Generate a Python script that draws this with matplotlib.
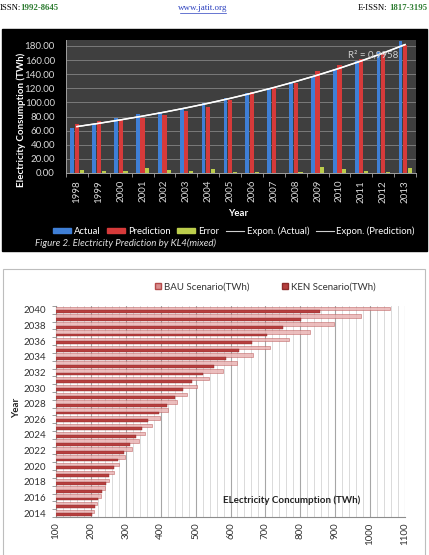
import numpy as np
import matplotlib.pyplot as plt
from matplotlib.patches import Rectangle, Patch
from matplotlib.lines import Line2D

W, H = 429, 555

# top chart: electricity prediction by KL4 (mixed)
years = [str(y) for y in range(1998, 2014)]
actual = [64.4, 69.2, 78.2, 83.8, 86.7, 91.0, 99.5, 105.6, 112.7, 119.8,
          128.4, 136.4, 146.8, 158.2, 171.5, 187.6]
prediction = [70.1, 74.4, 74.8, 78.6, 82.0, 87.6, 93.8, 103.7, 114.2, 121.3,
              127.0, 145.0, 153.5, 161.0, 169.6, 181.0]
error = [4.7, 3.3, 3.3, 6.6, 4.7, 2.8, 5.7, 1.9, 1.4, 0.5, 1.0, 9.0, 6.2,
         3.3, 1.9, 6.6]
y_ticks_top = [0, 20, 40, 60, 80, 100, 120, 140, 160, 180]

# bottom chart: scenarios 2014-2040
scen_years = list(range(2014, 2041))
bau = [208, 218, 228, 240, 253, 266, 281, 298, 318, 337, 356, 376, 397, 420,
       446, 474, 505, 539, 578, 618, 664, 713, 768, 828, 897, 973, 1057]
ken = [202, 211, 220, 231, 242, 253, 265, 279, 296, 312, 328, 345, 363, 395,
       417, 442, 465, 491, 520, 553, 587, 623, 662, 706, 751, 801, 856]
x_ticks_bottom = list(range(100, 1101, 100))


def fx(x):
    return x / W


def fy(y):
    return 1 - y / H


plt.rcParams['font.family'] = ['Lato', 'DejaVu Sans']
fig = plt.figure(figsize=(W / 100, H / 100), dpi=100)
fig.patch.set_facecolor('white')

# page header
fig.text(fx(0), fy(8), 'ISSN:', fontsize=6.3, family='Liberation Serif',
         va='center', ha='left')
fig.text(fx(20), fy(8), '1992-8645', fontsize=6.3, family='Liberation Serif',
         color='#2e7d32', weight='bold', va='center', ha='left')
fig.text(fx(203), fy(8), 'www.jatit.org', fontsize=6.5, family='Liberation Serif',
         color='#2a3fbf', va='center', ha='center')
fig.add_artist(Line2D([fx(180), fx(226)], [fy(12.5), fy(12.5)], color='#2a3fbf',
                      lw=0.5))
fig.text(fx(358), fy(8), 'E-ISSN:', fontsize=6.3, family='Liberation Serif',
         va='center', ha='left')
fig.text(fx(427), fy(8), '1817-3195', fontsize=6.3, family='Liberation Serif',
         color='#2e7d32', weight='bold', va='center', ha='right')

# black panel behind the top chart
fig.add_artist(Rectangle((fx(2), fy(251)), fx(425), 222 / H, color='black',
                         transform=fig.transFigure, zorder=0))

ax1 = fig.add_axes([fx(66), fy(173), 350 / W, 133 / H])
ax1.set_facecolor('#3f3f3f')
idx = np.arange(len(years))
ax1.bar(idx - 0.21, actual, 0.17, color='#3f7fd6', zorder=3)
ax1.bar(idx, prediction, 0.19, color='#d63a3a', zorder=3)
ax1.bar(idx + 0.22, error, 0.19, color='#bccd4c', zorder=3)

# exponential trendlines
for vals in (actual, prediction):
    b, a = np.polyfit(idx, np.log(vals), 1)
    ax1.plot(idx, np.exp(a + b * idx), color='white', lw=1.0, zorder=4)

ax1.set_xlim(-0.5, len(years) - 0.5)
ax1.set_ylim(0, 188.5)
ax1.set_yticks(y_ticks_top)
ax1.set_yticklabels(['%.2f' % v for v in y_ticks_top])
# tick marks between categories, labels on the categories
ax1.set_xticks(np.arange(-0.5, len(years), 1.0))
ax1.set_xticklabels([])
ax1.set_xticks(idx, minor=True)
ax1.set_xticklabels(years, rotation=90, minor=True)
ax1.grid(axis='y', color='#7a7a7a', lw=0.7, zorder=0)
ax1.tick_params(which='both', colors='#d9d9d9', labelcolor='#d9d9d9',
                labelsize=7, width=0.6)
ax1.tick_params(axis='x', which='major', length=3, color='#a0a0a0')
ax1.tick_params(axis='x', which='minor', length=0, pad=5)
ax1.tick_params(axis='y', length=0, pad=8)
for s in ['top', 'right']:
    ax1.spines[s].set_visible(False)
for s in ['left', 'bottom']:
    ax1.spines[s].set_color('#a0a0a0')
    ax1.spines[s].set_linewidth(0.7)
ax1.text(0.805, 0.885, 'R² = 0,9958', transform=ax1.transAxes, color='#d0d0d0',
         fontsize=7, ha='left', va='center', zorder=5)

fig.text(fx(21), fy(120), 'Electricity Consumption (TWh)', rotation=90,
         color='white', weight='bold', fontsize=7, ha='center', va='center')
fig.text(fx(238), fy(213), 'Year', color='white', weight='bold', fontsize=7,
         ha='center', va='center')

handles = [Patch(color='#3f7fd6'), Patch(color='#d63a3a'), Patch(color='#bccd4c'),
           Line2D([], [], color='#cfcfcf', lw=0.8),
           Line2D([], [], color='#cfcfcf', lw=0.8)]
labels = ['Actual', 'Prediction', 'Error', 'Expon. (Actual)', 'Expon. (Prediction)']
fig.legend(handles, labels, loc='center', bbox_to_anchor=(fx(234), fy(231)),
           ncol=5, frameon=False, fontsize=6.8, labelcolor='white',
           handlelength=1.9, handleheight=0.5, handletextpad=0.3,
           columnspacing=0.7)
fig.text(fx(35), fy(243), 'Figure 2. Electricity Prediction by KL4(mixed)',
         style='italic', color='#e0e0e0', fontsize=7, ha='left', va='center')

# white panel with border for the bottom chart
fig.add_artist(Rectangle((fx(3), fy(560)), fx(422), 291 / H, facecolor='white',
                         edgecolor='#bdbdbd', lw=0.8, transform=fig.transFigure,
                         zorder=0))

ax2 = fig.add_axes([fx(56), fy(517), 349 / W, 211 / H])
pos = np.arange(len(scen_years))
ax2.barh(pos + 0.2, bau, 0.45, color='#e9b3b3', edgecolor='#b95555', lw=0.4,
         alpha=0.85, zorder=3)
ax2.barh(pos - 0.2, ken, 0.36, color='#b63f3e', edgecolor='#8d2b2b', lw=0.3,
         zorder=3)
ax2.set_xlim(100, 1100)
ax2.set_ylim(-0.5, len(scen_years) - 0.5)
ax2.set_xticks(x_ticks_bottom)
ax2.set_xticklabels([str(v) for v in x_ticks_bottom], rotation=90)
ax2.set_xticks(np.arange(100, 1101, 20), minor=True)
ax2.set_yticks(pos[::2])
ax2.set_yticklabels([str(y) for y in scen_years[::2]])
ax2.set_yticks(np.arange(-0.5, len(scen_years), 1.0), minor=True)
ax2.grid(axis='x', which='major', color='#a6a6a6', lw=0.8, zorder=0)
ax2.grid(axis='x', which='minor', color='#d4d4d4', lw=0.6, zorder=0)
ax2.tick_params(axis='both', labelsize=7, colors='#333333', width=0.6)
ax2.tick_params(axis='x', which='both', length=0, pad=4)
ax2.tick_params(axis='y', which='major', length=0, pad=7)
ax2.tick_params(axis='y', which='minor', length=3, color='#8c8c8c')
for s in ['top', 'right']:
    ax2.spines[s].set_visible(False)
for s in ['left', 'bottom']:
    ax2.spines[s].set_color('#8c8c8c')
    ax2.spines[s].set_linewidth(0.8)
ax2.text(fx(292), fy(500), 'ELectricity Concumption (TWh)', transform=fig.transFigure,
         weight='bold', fontsize=7, ha='center', va='center', color='#222222',
         zorder=5)
fig.text(fx(17), fy(408), 'Year', rotation=90, weight='bold', fontsize=7,
         ha='center', va='center', color='#222222')

sq = [Line2D([], [], marker='s', ls='none', ms=4, color='#d98e8e',
             markeredgecolor='#b54a4a'),
      Line2D([], [], marker='s', ls='none', ms=4, color='#b63f3e',
             markeredgecolor='#8d2b2b')]
fig.legend(sq, ['BAU Scenario(TWh)', 'KEN Scenario(TWh)'], loc='center',
           bbox_to_anchor=(fx(265), fy(287)), ncol=2, frameon=False, fontsize=7,
           handlelength=0.8, handletextpad=0.2, columnspacing=3.2,
           labelcolor='#333333')

fig.savefig('out.png', dpi=100)
